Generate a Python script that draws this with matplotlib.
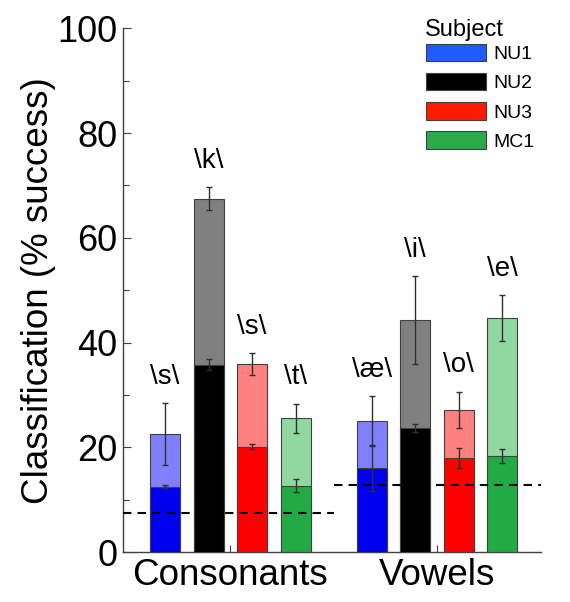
import matplotlib
matplotlib.use("Agg")
import matplotlib.pyplot as plt
from matplotlib.patches import Patch
import numpy as np

plt.rcParams['font.family'] = ['Liberation Sans', 'DejaVu Sans']

groups = ["Consonants", "Vowels"]
subjects = ["NU1", "NU2", "NU3", "MC1"]
phonemes = [["\\s\\", "\\k\\", "\\s\\", "\\t\\"],
            ["\\æ\\", "\\i\\", "\\o\\", "\\e\\"]]
# lower (dark) segment values and errors
low_vals = [[12.5, 35.8, 20.1, 12.7],
            [16.0, 23.7, 18.0, 18.3]]
low_err = [[0.3, 1.0, 0.5, 1.3],
           [4.3, 0.8, 1.9, 1.3]]
# total (light) bar heights and errors
top_vals = [[22.5, 67.5, 35.9, 25.5],
            [25.1, 44.3, 27.1, 44.6]]
top_err = [[5.9, 2.2, 2.1, 2.8],
           [4.7, 8.4, 3.5, 4.4]]
chance = [7.4, 12.8]

dark_colors = ["#0000f0", "#000000", "#ff0000", "#22aa44"]
light_colors = ["#8080ff", "#808080", "#ff8080", "#90d8a0"]
legend_colors = ["#1f5bff", "#000000", "#ff1a00", "#2aaa48"]

fig = plt.figure(figsize=(5.70, 6.02), dpi=100)
ax = fig.add_axes([0.216, 0.083, 0.733, 0.870])

group_offset = 4.75
width = 0.69
xmin, xmax = -0.966, 8.64

for g in range(len(groups)):
    xs = np.arange(4) + g * group_offset
    for i in range(4):
        x = xs[i]
        ax.bar(x, top_vals[g][i], width=width, color=light_colors[i],
               edgecolor="#404040", linewidth=0.8, zorder=2)
        ax.bar(x, low_vals[g][i], width=width, color=dark_colors[i],
               edgecolor="#404040", linewidth=0.8, zorder=3)
        ax.errorbar(x, top_vals[g][i], yerr=top_err[g][i], fmt='none',
                    ecolor="#303030", elinewidth=1.0, capsize=2.5, capthick=1.0, zorder=5)
        ax.errorbar(x, low_vals[g][i], yerr=low_err[g][i], fmt='none',
                    ecolor="#303030", elinewidth=1.0, capsize=2.5, capthick=1.0, zorder=5)
        ax.text(x, top_vals[g][i] + top_err[g][i] + 3.7, phonemes[g][i],
                ha='center', va='baseline', fontsize=20, zorder=6)

mid = (3 + group_offset) / 2
ax.plot([xmin, mid], [chance[0], chance[0]], ls=(0, (4, 3)), color='black', lw=1.5, zorder=4)
ax.plot([mid, xmax], [chance[1], chance[1]], ls=(0, (4, 3)), color='black', lw=1.5, zorder=4)

ax.set_xlim(xmin, xmax)
ax.set_ylim(0, 100)
ax.spines['top'].set_visible(False)
ax.spines['right'].set_visible(False)
for s in ['left', 'bottom']:
    ax.spines[s].set_linewidth(1.0)
    ax.spines[s].set_color('#404040')

ax.set_yticks(np.arange(0, 101, 20))
ax.set_yticks(np.arange(10, 100, 20), minor=True)
ax.tick_params(axis='y', which='major', direction='in', length=6, width=0.8,
               labelsize=26, pad=4, colors='#404040', labelcolor='black')
ax.tick_params(axis='y', which='minor', direction='in', length=4, width=0.8, colors='#404040')
ax.set_xticks([1.5, 1.5 + group_offset])
ax.set_xticklabels(groups)
ax.tick_params(axis='x', direction='in', length=5, width=0.8, labelsize=26.5, pad=4,
               colors='#404040', labelcolor='black')

ax.set_ylabel("Classification (% success)", fontsize=26.5)
ax.yaxis.set_label_coords(-0.160, 0.5)

# legend title and entries
fig.text(425 / 570, 1 - 30 / 602, "Subject", fontsize=17, ha='left', va='center')
handles = [Patch(facecolor=c, edgecolor="#404040", linewidth=0.8) for c in legend_colors]
leg = ax.legend(handles, subjects, loc='upper left',
                bbox_to_anchor=(426 / 570, 1 - 44 / 602), bbox_transform=fig.transFigure,
                borderpad=0, borderaxespad=0, frameon=False, fontsize=14,
                handlelength=3.1, handleheight=1.0,
                labelspacing=0.5, handletextpad=0.35)

fig.savefig("out.png", dpi=100)
